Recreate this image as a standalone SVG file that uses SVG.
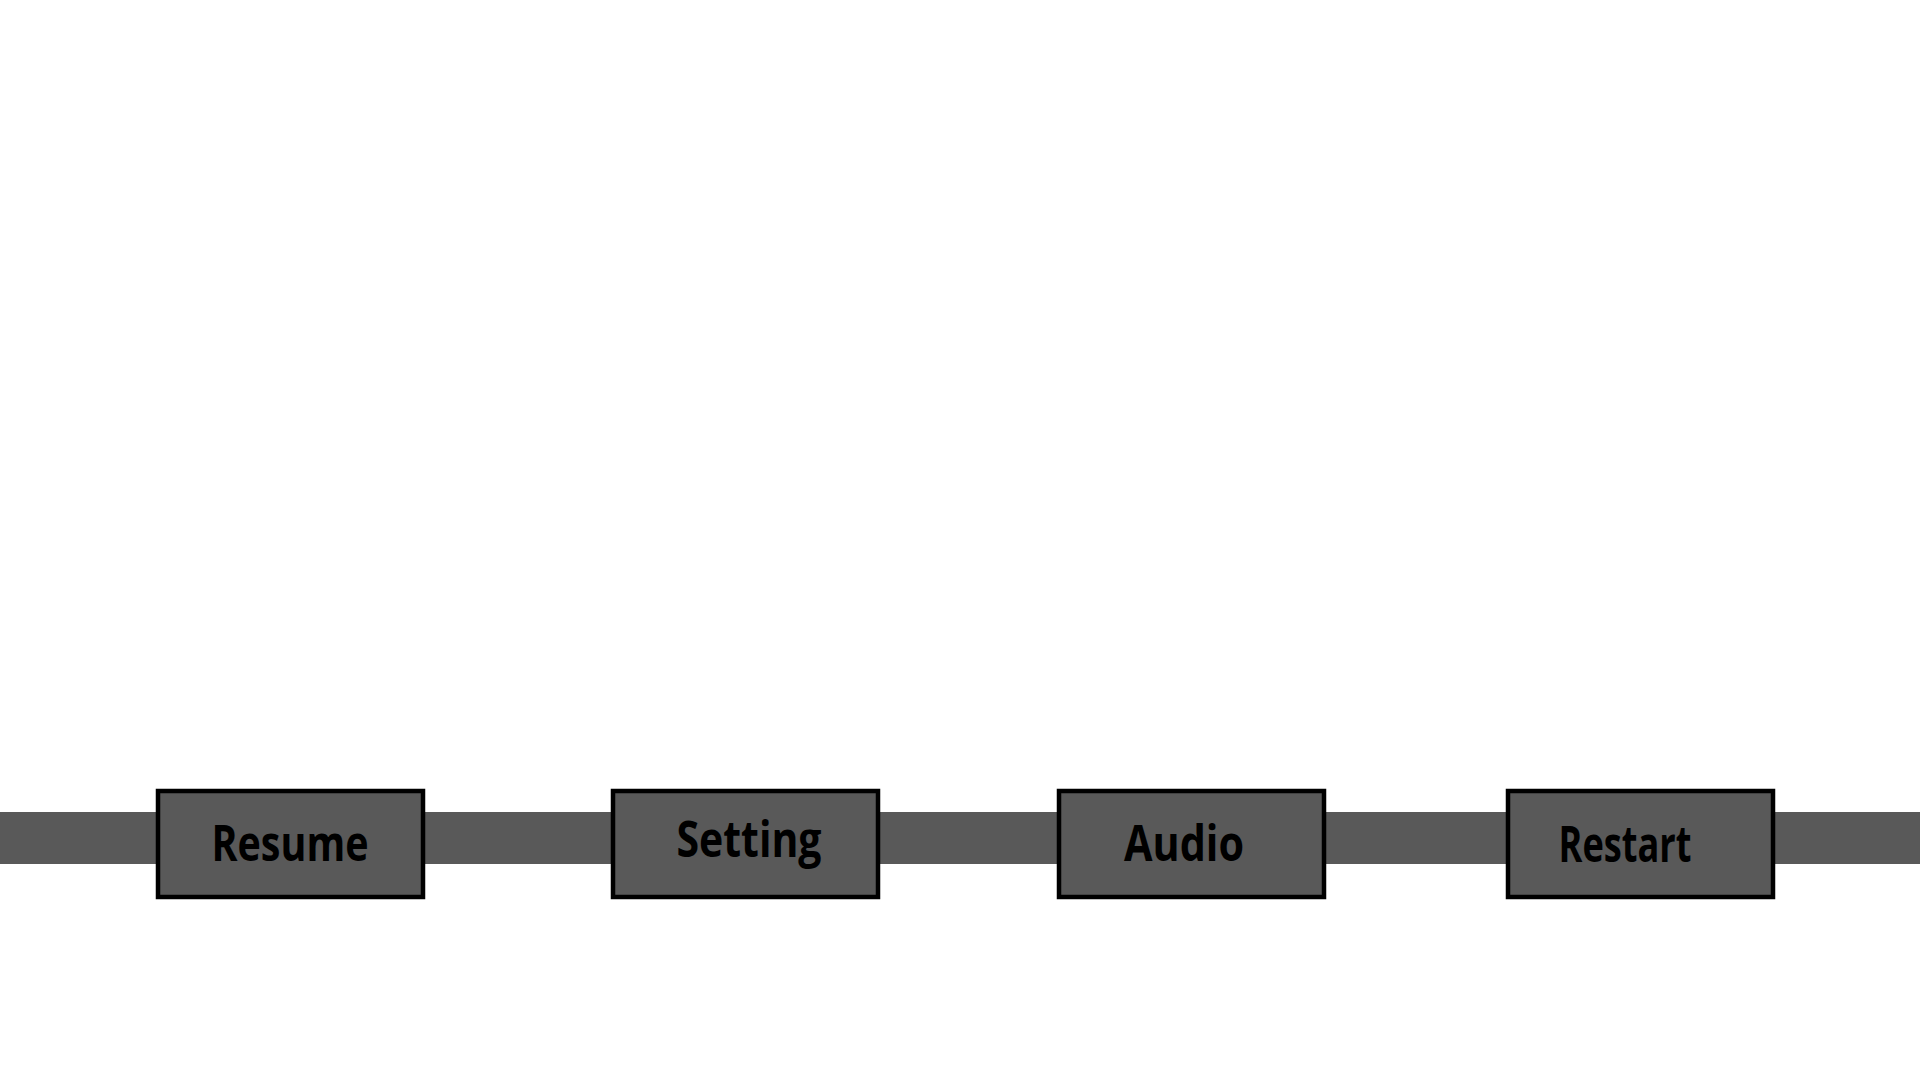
<svg xmlns="http://www.w3.org/2000/svg" width="1920" height="1080" viewBox="0 0 1920 1080">
<style>
.bar{fill:#595959}
.node rect{fill:#595959;stroke:#000;stroke-width:4.5}
.node text{font-family:"Open Sans","Noto Sans","Liberation Sans",sans-serif;font-weight:700;font-size:50px;fill:#000;text-anchor:middle}
</style>
<rect width="1920" height="1080" fill="#fff"/>
<g id="connectors">
<rect class="bar" x="0" y="812" width="1920" height="52"/>
</g>
<g id="resume" class="node">
<rect x="158" y="791" width="265" height="106"/>
<text x="290" y="861" textLength="157" lengthAdjust="spacingAndGlyphs">Resume</text>
</g>
<g id="setting" class="node">
<rect x="613" y="791" width="265" height="106"/>
<text x="749" y="857" textLength="145" lengthAdjust="spacingAndGlyphs">Setting</text>
</g>
<g id="audio" class="node">
<rect x="1059" y="791" width="265" height="106"/>
<text x="1184" y="861" textLength="120" lengthAdjust="spacingAndGlyphs">Audio</text>
</g>
<g id="restart" class="node">
<rect x="1508" y="791" width="265" height="106"/>
<text x="1625" y="862" textLength="133" lengthAdjust="spacingAndGlyphs">Restart</text>
</g>
</svg>
